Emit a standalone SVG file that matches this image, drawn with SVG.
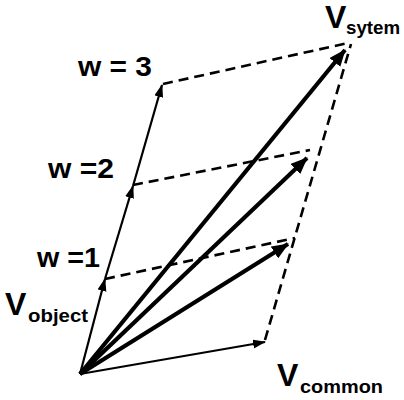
<svg xmlns="http://www.w3.org/2000/svg" width="404" height="400" viewBox="0 0 404 400">
<style>
.thin{stroke:#000;stroke-width:2.2;fill:none}
.thick{stroke:#000;stroke-width:4.2;fill:none}
.dash{stroke:#000;stroke-width:2.6;fill:none;stroke-dasharray:10 6}
text{font-family:"Liberation Sans",Arial,sans-serif;font-weight:bold;fill:#000}
.big{font-size:32px}
.sub{font-size:19px}
.w{font-size:28px}
</style>
<defs>
<marker id="ah" markerUnits="userSpaceOnUse" markerWidth="14" markerHeight="10" refX="12" refY="4.5" orient="auto">
<path d="M0,0 L13,4.5 L0,9 Z" fill="#000"/>
</marker>
<marker id="ahb" markerUnits="userSpaceOnUse" markerWidth="18" markerHeight="14" refX="16" refY="7" orient="auto">
<path d="M0,0 L17,7 L0,14 Z" fill="#000"/>
</marker>
</defs>
<rect width="404" height="400" fill="#fff"/>
<g id="connectors">
<line class="dash" x1="105" y1="279" x2="295" y2="238"/>
<line class="dash" x1="133" y1="185" x2="310" y2="150"/>
<line class="dash" x1="163" y1="84" x2="348" y2="43"/>
<line class="dash" x1="265" y1="340" x2="351" y2="44"/>
<line class="thin" x1="80" y1="374" x2="105" y2="279" marker-end="url(#ah)"/>
<line class="thin" x1="105" y1="279" x2="133" y2="186" marker-end="url(#ah)"/>
<line class="thin" x1="133" y1="186" x2="162" y2="85" marker-end="url(#ah)"/>
<line class="thin" x1="80" y1="374" x2="265" y2="342" marker-end="url(#ah)"/>
<line class="thick" x1="80" y1="374" x2="288" y2="244" marker-end="url(#ahb)"/>
<line class="thick" x1="80" y1="374" x2="307" y2="158" marker-end="url(#ahb)"/>
<line class="thick" x1="80" y1="374" x2="345" y2="50" marker-end="url(#ahb)"/>
</g>
<g id="label-vsystem">
<text class="big" x="325" y="28">V</text>
<text class="sub" x="346" y="34" textLength="54" lengthAdjust="spacingAndGlyphs">sytem</text>
</g>
<g id="label-vobject">
<text class="big" x="5" y="315">V</text>
<text class="sub" x="28" y="322" textLength="60" lengthAdjust="spacingAndGlyphs">object</text>
</g>
<g id="label-vcommon">
<text class="big" x="277" y="386">V</text>
<text class="sub" x="300" y="393" textLength="83" lengthAdjust="spacingAndGlyphs">common</text>
</g>
<g id="label-w3"><text class="w" x="78" y="76" textLength="74" lengthAdjust="spacingAndGlyphs">w = 3</text></g>
<g id="label-w2"><text class="w" x="48" y="178" textLength="66" lengthAdjust="spacingAndGlyphs">w =2</text></g>
<g id="label-w1"><text class="w" x="37" y="267" textLength="63" lengthAdjust="spacingAndGlyphs">w =1</text></g>
</svg>
